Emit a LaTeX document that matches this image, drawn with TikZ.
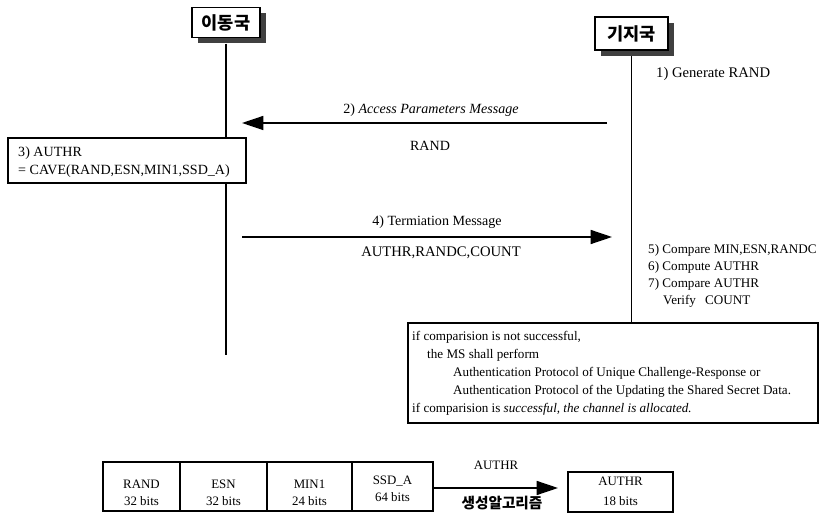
\documentclass[tikz,border=0pt]{standalone}
\usepackage{fontspec}
\setmainfont{Liberation Serif}
\newfontfamily\krfont{Noto Sans CJK KR}
\usetikzlibrary{arrows.meta,shadows}
\begin{document}
\begin{tikzpicture}[x=0.03cm,y=-0.03cm,
  lifeline/.style={line width=1.4pt},
  msg/.style={line width=1.3pt,-{Triangle[length=6.4mm,width=4.2mm]}},
  hdr/.style={draw,line width=0.9pt,fill=white,inner sep=0pt,
    font=\krfont\bfseries\fontsize{15}{17}\selectfont,
    drop shadow={fill=black,opacity=0.75,shadow xshift=0.17cm,shadow yshift=-0.17cm}},
  boxed/.style={draw,line width=0.9pt,fill=white,inner sep=0pt},
  txt/.style={inner sep=0pt,anchor=base west},
  ctxt/.style={inner sep=0pt,anchor=base},
  mlabel/.style={ctxt,font=\fontsize{12}{14}\selectfont},
  note/.style={txt,font=\fontsize{11.2}{13}\selectfont},
  rule/.style={txt,font=\fontsize{11.2}{13}\selectfont},
  field/.style={ctxt,font=\fontsize{11}{13}\selectfont}]
\useasboundingbox (0,0) rectangle (830,514);

% station headers
\node[hdr,minimum width=2.04cm,minimum height=0.9cm] (ms) at (226,22.5) {이동국};
\node[hdr,minimum width=2.19cm,minimum height=0.99cm] (bs) at (631.5,33.5) {기지국};

% procedure summary at the base station
\node[boxed,minimum width=12.3cm,minimum height=3cm] (rulebox) at (613,373) {};

% lifelines
\coordinate (msend) at (226,355);
\draw[lifeline] ([yshift=-0.17cm]ms.south) -- (msend);
\draw[lifeline] ([yshift=-0.17cm]bs.south) -- (bs.south |- rulebox.north);

% step 1
\node[note,font=\fontsize{12.5}{14}\selectfont] (s1) at (656,78) {1) Generate RAND};

% step 2
\coordinate (m2s) at (607,123);
\coordinate (m2e) at (242,123);
\draw[msg] (m2s) -- (m2e);
\node[mlabel] (m2t) at (431,114) {2) \textit{Access Parameters Message}};
\node[ctxt,font=\fontsize{12}{14}\selectfont] (m2b) at (430,151) {RAND};

% step 3 at the mobile station
\node[boxed,minimum width=7.14cm,minimum height=1.35cm] (calc) at (127,160.5) {};
\node[txt,font=\fontsize{12}{14}\selectfont] (c1) at (18,157) {3) AUTHR};
\node[txt,font=\fontsize{12}{14}\selectfont] (c2) at (18,175) {= CAVE(RAND,ESN,MIN1,SSD\_A)};

% step 4
\coordinate (m4s) at (242,237);
\coordinate (m4e) at (612,237);
\draw[msg] (m4s) -- (m4e);
\node[mlabel] (m4t) at (437,226) {4) Termiation Message};
\node[mlabel,font=\fontsize{12.5}{14}\selectfont] (m4b) at (441,257) {AUTHR,RANDC,COUNT};

% steps 5 to 7
\node[note] (s5) at (648,254) {5) Compare MIN,ESN,RANDC};
\node[note] (s6) at (648,271) {6) Compute AUTHR};
\node[note] (s7) at (648,288) {7) Compare AUTHR};
\node[note] (s7a) at (663,305) {Verify};
\node[note] (s7b) at (705,305) {COUNT};

% text of the summary box
\node[rule] (r1) at (412,341) {if comparision is not successful,};
\node[rule] (r2) at (427,359) {the MS shall perform};
\node[rule] (r3) at (453,377) {Authentication Protocol of Unique Challenge-Response or};
\node[rule] (r4) at (453,395) {Authentication Protocol of the Updating the Shared Secret Data.};
\node[rule] (r5) at (412,413) {if comparision is \textit{successful, the channel is allocated.}};

% CAVE input fields
\node[boxed,minimum width=2.31cm,minimum height=1.47cm] (frand) at (141.5,486.5) {};
\node[boxed,minimum width=2.61cm,minimum height=1.47cm] (fesn) at (223.5,486.5) {};
\node[boxed,minimum width=2.55cm,minimum height=1.47cm] (fmin) at (309.5,486.5) {};
\node[boxed,minimum width=2.43cm,minimum height=1.47cm] (fssd) at (392.5,486.5) {};
\node[field] (t1a) at (frand |- 0,489) {RAND};
\node[field] (t1b) at (frand |- 0,506) {32 bits};
\node[field] (t2a) at (fesn |- 0,489) {ESN};
\node[field] (t2b) at (fesn |- 0,506) {32 bits};
\node[field] (t3a) at (fmin |- 0,489) {MIN1};
\node[field] (t3b) at (fmin |- 0,506) {24 bits};
\node[field] (t4a) at (fssd |- 0,485) {SSD\_A};
\node[field] (t4b) at (fssd |- 0,502) {64 bits};

% output of the algorithm
\node[boxed,minimum width=3.15cm,minimum height=1.2cm] (fout) at (620.5,492) {};
\node[field] (t5a) at (fout |- 0,486) {AUTHR};
\node[field] (t5b) at (fout |- 0,506) {18 bits};
\coordinate (alg) at (558,488);
\draw[msg] (fssd.east |- alg) -- (alg);
\node[field] (algt) at (496,470) {AUTHR};
\node[ctxt,font=\krfont\bfseries\fontsize{12.5}{14}\selectfont] (algb) at (502,509) {생성알고리즘};
\end{tikzpicture}
\end{document}
